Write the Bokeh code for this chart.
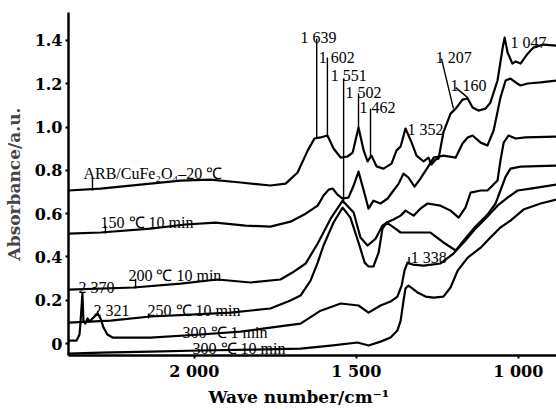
from bokeh.plotting import figure
from bokeh.models import Range1d, FixedTicker, Title
from bokeh.embed import file_html
from bokeh.resources import INLINE
from bokeh.core.properties import value

# ---------------- data (wave number cm-1, absorbance a.u.) ----------------
wn_20 = [2388, 2289, 2166, 2042, 1950, 1857, 1765, 1718, 1681, 1650, 1629, 1610, 1589, 1570, 1548, 1527,
         1511, 1493, 1477, 1465, 1453, 1437, 1416, 1391, 1376, 1363, 1348, 1329, 1314, 1292, 1277, 1268,
         1255, 1246, 1231, 1209, 1193, 1172, 1156, 1141, 1123, 1101, 1086, 1064, 1048, 1042, 1033, 1018,
         1008, 993, 971, 953, 922, 882]
ab_20 = [0.707, 0.716, 0.734, 0.753, 0.757, 0.744, 0.730, 0.739, 0.790, 0.891, 0.947, 0.952, 0.961, 0.901,
         0.859, 0.864, 0.882, 0.998, 0.891, 0.841, 0.868, 0.818, 0.808, 0.831, 0.891, 0.910, 0.993, 0.928,
         0.868, 0.841, 0.859, 0.827, 0.850, 0.854, 0.975, 1.062, 1.085, 1.127, 1.132, 1.090, 1.076, 1.085,
         1.113, 1.215, 1.367, 1.413, 1.344, 1.293, 1.303, 1.293, 1.339, 1.367, 1.381, 1.376]

wn_150 = [2388, 2289, 2135, 2027, 1934, 1842, 1765, 1703, 1656, 1619, 1601, 1585, 1573, 1558, 1542, 1524,
          1508, 1493, 1477, 1462, 1447, 1425, 1403, 1385, 1369, 1354, 1339, 1320, 1302, 1280, 1261, 1231,
          1193, 1172, 1156, 1141, 1116, 1095, 1076, 1055, 1039, 1024, 1008, 993, 971, 931, 882]
ab_150 = [0.508, 0.513, 0.531, 0.550, 0.559, 0.545, 0.540, 0.563, 0.600, 0.637, 0.684, 0.711, 0.716, 0.688,
          0.670, 0.674, 0.730, 0.794, 0.707, 0.623, 0.660, 0.647, 0.670, 0.707, 0.739, 0.785, 0.767, 0.725,
          0.762, 0.813, 0.859, 0.868, 0.859, 0.924, 0.952, 0.961, 0.928, 0.915, 0.984, 1.136, 1.215, 1.224,
          1.206, 1.192, 1.201, 1.206, 1.215]

wn_200 = [2388, 2187, 2042, 1928, 1826, 1734, 1697, 1656, 1619, 1579, 1542, 1508, 1487, 1465, 1440, 1419,
          1406, 1385, 1363, 1348, 1323, 1302, 1280, 1240, 1209, 1184, 1163, 1147, 1116, 1095, 1064, 1055,
          1045, 1030, 1008, 978, 882]
ab_200 = [0.249, 0.259, 0.277, 0.296, 0.282, 0.296, 0.328, 0.370, 0.462, 0.577, 0.660, 0.605, 0.490, 0.453,
          0.485, 0.545, 0.559, 0.573, 0.591, 0.614, 0.591, 0.623, 0.647, 0.637, 0.614, 0.582, 0.628, 0.697,
          0.707, 0.707, 0.753, 0.845, 0.928, 0.961, 0.947, 0.952, 0.956]

wn_250 = [2388, 2258, 2135, 2011, 1888, 1765, 1703, 1672, 1641, 1619, 1601, 1570, 1542, 1518, 1493, 1474,
          1462, 1447, 1431, 1419, 1406, 1388, 1363, 1317, 1271, 1231, 1193, 1163, 1132, 1095, 1070, 1055,
          1039, 1024, 993, 882]
ab_250 = [0.097, 0.106, 0.125, 0.134, 0.143, 0.162, 0.199, 0.222, 0.291, 0.374, 0.453, 0.559, 0.628, 0.582,
          0.467, 0.374, 0.356, 0.356, 0.420, 0.531, 0.559, 0.540, 0.513, 0.513, 0.513, 0.467, 0.430, 0.485,
          0.541, 0.596, 0.647, 0.707, 0.771, 0.808, 0.817, 0.822]

wn_300_1 = [2388, 2363, 2354, 2351, 2345, 2342, 2336, 2329, 2323, 2314, 2298, 2289, 2280, 2268, 2252, 2135,
            1981, 1857, 1765, 1672, 1610, 1548, 1493, 1462, 1425, 1394, 1373, 1360, 1351, 1342, 1326, 1292,
            1240, 1200, 1163, 1132, 1095, 1064, 1033, 1002, 962, 882]
ab_300_1 = [0.014, 0.014, 0.042, 0.097, 0.231, 0.106, 0.092, 0.116, 0.102, 0.116, 0.139, 0.116, 0.074, 0.042,
            0.028, 0.028, 0.042, 0.055, 0.074, 0.092, 0.152, 0.185, 0.176, 0.143, 0.176, 0.194, 0.217, 0.268,
            0.337, 0.374, 0.365, 0.360, 0.370, 0.416, 0.476, 0.531, 0.587, 0.637, 0.674, 0.707, 0.716, 0.735]

wn_300_10 = [2388, 2289, 2135, 1981, 1826, 1672, 1579, 1496, 1462, 1425, 1394, 1373, 1363, 1354, 1348, 1339,
             1326, 1311, 1286, 1261, 1231, 1209, 1187, 1156, 1116, 1086, 1055, 1024, 984, 931, 882]
ab_300_10 = [-0.046, -0.042, -0.037, -0.032, -0.028, -0.023, -0.009, 0.005, -0.009, 0.009, 0.028, 0.060, 0.106,
             0.199, 0.254, 0.268, 0.254, 0.236, 0.217, 0.212, 0.217, 0.259, 0.337, 0.397, 0.443, 0.490, 0.536,
             0.568, 0.619, 0.647, 0.665]

# sample labels
sample_text = ["ARB/CuFe\u2082O\u2084\u201320 \u2103", "150 \u2103 10 min", "200 \u2103 10 min",
               "250 \u2103 10 min", "300 \u2103 1 min", "300 \u2103 10 min"]
sample_x = [2342, 2289, 2203, 2144, 2036, 2005]
sample_y = [0.785, 0.559, 0.314, 0.152, 0.051, -0.023]

# peak labels
peak_text = ["1 639", "1 602", "1 551", "1 502", "1 462", "1 352", "1 207", "1 160", "1 047",
             "1 338", "2 370", "2 321"]
peak_x = [1672, 1616, 1579, 1533, 1490, 1342, 1255, 1209, 1024, 1332, 2357, 2311]
peak_y = [1.413, 1.321, 1.238, 1.159, 1.090, 0.988, 1.321, 1.192, 1.390, 0.397, 0.259, 0.152]

# leader lines
lead_x0 = [1622, 1589, 1539, 1493, 1456, 1237, 1193, 1337, 2314, 2274, 2181, 2298, 2141]
lead_y0 = [1.409, 1.321, 1.224, 1.155, 1.085, 1.316, 1.182, 0.400, 0.767, 0.545, 0.300, 0.152, 0.139]
lead_x1 = [1622, 1589, 1539, 1493, 1456, 1200, 1156, 1337, 2314, 2274, 2181, 2298, 2141]
lead_y1 = [0.952, 0.961, 0.647, 0.998, 0.859, 1.085, 1.136, 0.365, 0.707, 0.508, 0.254, 0.129, 0.116]

x_ticks = [2000, 1500, 1000]
x_tick_labels = ["2 000", "1 500", "1 000"]
y_ticks = [0, 0.2, 0.4, 0.6, 0.8, 1.0, 1.2, 1.4]
y_tick_labels = ["0", "0.2", "0.4", "0.6", "0.8", "1.0", "1.2", "1.4"]

# ---------------- figure ----------------
p = figure(width=556, height=409, output_backend="svg", toolbar_location=None,
           x_range=Range1d(2388, 882), y_range=Range1d(-0.055, 1.529),
           min_border_left=68, min_border_right=0, min_border_top=12, min_border_bottom=54)
p.grid.visible = False
p.outline_line_color = None
p.background_fill_color = "white"
p.border_fill_color = "white"

for wn, ab in [(wn_20, ab_20), (wn_150, ab_150), (wn_200, ab_200), (wn_250, ab_250),
               (wn_300_1, ab_300_1), (wn_300_10, ab_300_10)]:
    p.line(wn, ab, line_color="black", line_width=2.2, line_join="round")

p.segment(lead_x0, lead_y0, lead_x1, lead_y1, line_color="black", line_width=1.4)

p.text(sample_x, sample_y, text=sample_text, text_font=value("Liberation Serif"),
       text_font_size="16px", text_color="black", text_align="left", text_baseline="alphabetic")
p.text(peak_x, peak_y, text=peak_text, text_font=value("Liberation Serif"),
       text_font_size="16px", text_color="black", text_align="left", text_baseline="alphabetic")

p.xaxis.ticker = FixedTicker(ticks=x_ticks)
p.xaxis.major_label_overrides = dict(zip(x_ticks, x_tick_labels))
p.yaxis.ticker = FixedTicker(ticks=y_ticks)
p.yaxis.major_label_overrides = dict(zip(y_ticks, y_tick_labels))

for ax in p.axis:
    ax.axis_line_width = 2.5
    ax.axis_line_color = "black"
    ax.major_tick_in = 0
    ax.major_tick_out = 3
    ax.major_tick_line_width = 2
    ax.minor_tick_line_color = None
    ax.major_label_text_font = "DejaVu Serif"
    ax.major_label_text_font_size = "16px"
    ax.major_label_text_font_style = "bold"
    ax.major_label_text_color = "black"
    ax.major_label_standoff = 3

p.yaxis.axis_label = "Absorbance/a.u."
p.yaxis.axis_label_text_font = "DejaVu Serif"
p.yaxis.axis_label_text_font_size = "17px"
p.yaxis.axis_label_text_font_style = "bold"
p.yaxis.axis_label_standoff = 8

p.add_layout(Title(text="Wave number/cm\u207b\u00b9", align="left", offset=140,
                   text_font="DejaVu Serif", text_font_size="17px", text_font_style="bold",
                   text_color="black", standoff=2), "below")

open("out.html", "w").write(file_html(p, INLINE))
